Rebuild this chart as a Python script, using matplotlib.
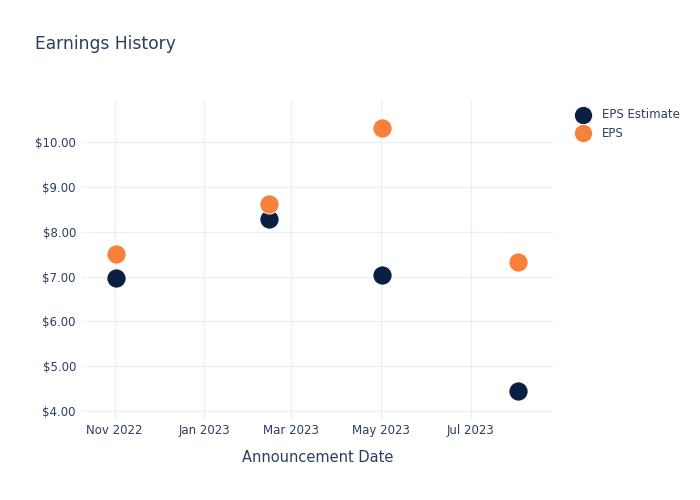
import numpy as np
import pandas as pd
import matplotlib
matplotlib.use("Agg")
import matplotlib.pyplot as plt
import matplotlib.dates as mdates
from matplotlib.ticker import FuncFormatter

plt.rcParams['font.family'] = ['DejaVu Sans']

dates = pd.to_datetime(["2022-11-02", "2023-02-14", "2023-05-02", "2023-08-02"])
eps_estimate = [6.97, 8.29, 7.04, 4.45]
eps_actual = [7.50, 8.62, 10.32, 7.33]

text_color = '#2a3f5f'
grid_color = '#ebf0f8'

fig = plt.figure(figsize=(7, 5), dpi=100)
ax = fig.add_axes([81.5 / 700, 80 / 500, (553 - 81.5) / 700, 320 / 500])

ax.scatter(dates, eps_estimate, s=190, color='#0b1f42', edgecolors='white',
           linewidths=0.6, label='EPS Estimate', zorder=3)
ax.scatter(dates, eps_actual, s=190, color='#f7803a', edgecolors='white',
           linewidths=0.6, label='EPS', zorder=3)

ax.set_xlim(pd.Timestamp("2022-10-09 12:00"), pd.Timestamp("2023-08-26"))
ax.set_ylim(3.80, 10.94)
ax.set_yticks([4, 5, 6, 7, 8, 9, 10])
ax.yaxis.set_major_formatter(FuncFormatter(lambda v, p: f"${v:.2f}"))
ax.xaxis.set_major_locator(mdates.MonthLocator(bymonth=[1, 3, 5, 7, 11]))
ax.xaxis.set_major_formatter(mdates.DateFormatter("%b %Y"))

for s in ax.spines.values():
    s.set_visible(False)
ax.grid(True, color=grid_color, linewidth=1)
ax.set_axisbelow(True)
ax.tick_params(length=0, colors=text_color, labelsize=8.5)
ax.tick_params(axis='x', pad=3)
ax.tick_params(axis='y', pad=4)

ax.set_xlabel("Announcement Date", color=text_color, fontsize=10.5, labelpad=9)
fig.text(35 / 700, 1 - 44 / 500, "Earnings History", color=text_color,
         fontsize=12.3, va='center', ha='left')

leg = fig.legend(loc='upper left', bbox_to_anchor=(561 / 700, 1 - 97 / 500),
                 frameon=False, fontsize=8.5, handletextpad=0.6, labelspacing=0.5,
                 markerscale=0.95)
for t in leg.get_texts():
    t.set_color(text_color)

fig.savefig("out.png", dpi=100, facecolor='white')
